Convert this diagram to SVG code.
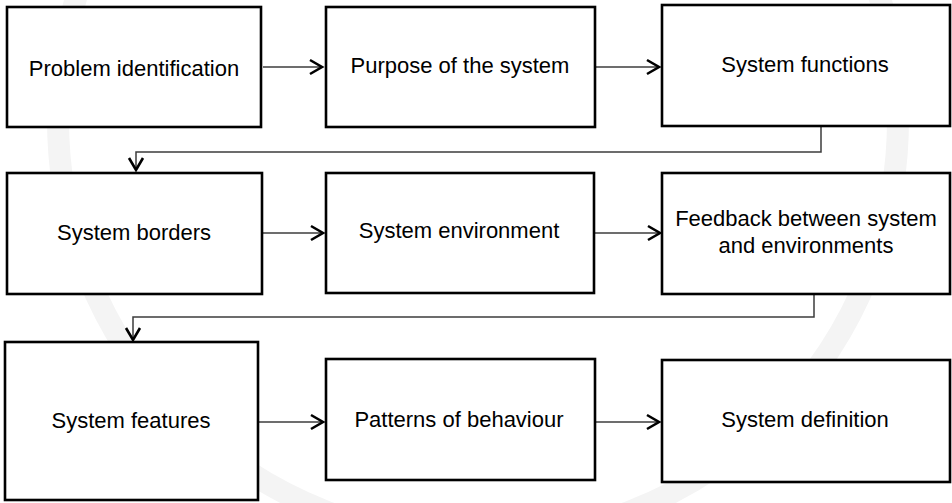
<svg xmlns="http://www.w3.org/2000/svg" width="952" height="503" viewBox="0 0 952 503">
  <defs>
    <style>
      .box { fill: #ffffff; stroke: #000000; stroke-width: 2.6; }
      .lbl { font-family: "Liberation Sans", Arial, sans-serif; font-size: 22px; fill: #000000; text-anchor: middle; }
      .conn { fill: none; stroke: #3c3c3c; stroke-width: 1.5; }
      .wm { fill: none; stroke: #f4f4f4; stroke-width: 22; }
    </style>
    <marker id="arrow" markerUnits="userSpaceOnUse" markerWidth="20" markerHeight="20" viewBox="-15 -10 18 20" refX="0" refY="0" orient="auto">
      <path d="M-12,-7 L0,0 L-12,7" fill="none" stroke="#000000" stroke-width="2.6" stroke-linejoin="miter"/>
    </marker>
  </defs>
  <rect width="952" height="503" fill="#ffffff"/>
  <g id="watermark">
    <circle class="wm" cx="478" cy="120" r="420"/>
  </g>
  <g id="connectors">
    <line class="conn" x1="263" y1="67" x2="322" y2="67" marker-end="url(#arrow)"/>
    <line class="conn" x1="596" y1="67" x2="659" y2="67" marker-end="url(#arrow)"/>
    <path class="conn" d="M821,127 V152 H136 V170" marker-end="url(#arrow)"/>
    <line class="conn" x1="263" y1="233" x2="323" y2="233" marker-end="url(#arrow)"/>
    <line class="conn" x1="595" y1="233" x2="660" y2="233" marker-end="url(#arrow)"/>
    <path class="conn" d="M814,295 V317 H133 V340" marker-end="url(#arrow)"/>
    <line class="conn" x1="259" y1="422" x2="323" y2="422" marker-end="url(#arrow)"/>
    <line class="conn" x1="596" y1="422" x2="659" y2="422" marker-end="url(#arrow)"/>
  </g>
  <g id="n1">
    <rect class="box" x="7" y="7" width="254" height="120"/>
    <text class="lbl" x="134" y="76">Problem identification</text>
  </g>
  <g id="n2">
    <rect class="box" x="326" y="7" width="269" height="120"/>
    <text class="lbl" x="460" y="73">Purpose of the system</text>
  </g>
  <g id="n3">
    <rect class="box" x="662" y="5" width="288" height="121"/>
    <text class="lbl" x="805" y="72">System functions</text>
  </g>
  <g id="n4">
    <rect class="box" x="7" y="173" width="255" height="121"/>
    <text class="lbl" x="134" y="240">System borders</text>
  </g>
  <g id="n5">
    <rect class="box" x="326" y="173" width="268" height="120"/>
    <text class="lbl" x="459" y="238">System environment</text>
  </g>
  <g id="n6">
    <rect class="box" x="662" y="173" width="288" height="121"/>
    <text class="lbl" x="806" y="226">Feedback between system</text>
    <text class="lbl" x="806" y="253">and environments</text>
  </g>
  <g id="n7">
    <rect class="box" x="5" y="342" width="253" height="158"/>
    <text class="lbl" x="131" y="428">System features</text>
  </g>
  <g id="n8">
    <rect class="box" x="326" y="359" width="269" height="121"/>
    <text class="lbl" x="459" y="427">Patterns of behaviour</text>
  </g>
  <g id="n9">
    <rect class="box" x="662" y="360" width="288" height="122"/>
    <text class="lbl" x="805" y="427">System definition</text>
  </g>
</svg>
